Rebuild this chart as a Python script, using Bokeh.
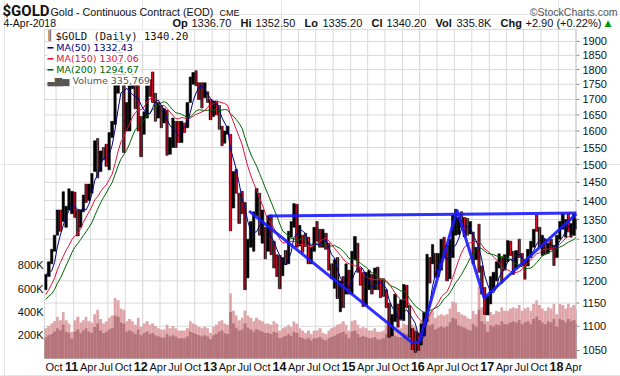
import math
import pandas as pd
from bokeh.plotting import figure
from bokeh.models import Range1d, LinearScale, Label, BoxAnnotation, ColumnDataSource
from bokeh.embed import file_html
from bokeh.resources import INLINE

# ---------------- data (semi-monthly periods) ----------------
# closes before the visible window (Oct 2009 .. Jul 2010), used for the moving averages
pre_close = [1050, 1040, 1105, 1175, 1125, 1100, 1140, 1085, 1090, 1118,
             1105, 1115, 1155, 1178, 1228, 1212, 1230, 1245, 1208, 1180]

# visible window: Aug 2010 first half .. Apr 2018 first half
bar_high = [
    1215, 1245, 1275, 1310, 1375, 1375, 1424, 1385, 1432, 1425,
    1423, 1375, 1375, 1415, 1445, 1445, 1475, 1570, 1577, 1540, 1550, 1560,
    1595, 1630, 1815, 1920, 1920, 1815, 1690, 1745, 1802, 1760, 1760, 1645,
    1660, 1745, 1765, 1792, 1720, 1690, 1680, 1670, 1665, 1580, 1640, 1630,
    1630, 1630, 1625, 1690, 1775, 1790, 1796, 1755, 1755, 1755, 1725, 1700,
    1695, 1695, 1680, 1615, 1600, 1615, 1590, 1480, 1487, 1420, 1425, 1395,
    1300, 1345, 1370, 1433, 1420, 1375, 1330, 1360, 1362, 1295, 1262, 1260,
    1255, 1272, 1320, 1345, 1392, 1390, 1335, 1310, 1315, 1305, 1280, 1330,
    1345, 1325, 1325, 1315, 1290, 1240, 1250, 1255, 1200, 1210, 1240, 1225,
    1270, 1307, 1290, 1230, 1220, 1220, 1225, 1215, 1230, 1232, 1205, 1205,
    1180, 1150, 1125, 1170, 1148, 1157, 1192, 1190, 1145, 1095, 1090, 1085,
    1105, 1130, 1263, 1255, 1287, 1265, 1265, 1300, 1305, 1285, 1300, 1362,
    1377, 1355, 1370, 1355, 1353, 1345, 1318, 1280, 1338, 1235, 1185, 1165,
    1210, 1220, 1245, 1264, 1255, 1262, 1297, 1295, 1270, 1272, 1300, 1265,
    1250, 1275, 1295, 1325, 1362, 1330, 1310, 1300, 1290, 1300, 1285, 1310,
    1345, 1366, 1350, 1365, 1340, 1365, 1352]
bar_low = [
    1180, 1210, 1240, 1270, 1310, 1320, 1345, 1330, 1375, 1365,
    1355, 1308, 1330, 1370, 1395, 1400, 1420, 1480, 1462, 1480, 1515, 1495,
    1485, 1580, 1620, 1720, 1760, 1535, 1600, 1600, 1735, 1670, 1600, 1523,
    1590, 1640, 1710, 1690, 1630, 1640, 1610, 1625, 1527, 1530, 1550, 1550,
    1565, 1565, 1595, 1610, 1690, 1750, 1745, 1700, 1672, 1705, 1690, 1635,
    1645, 1650, 1605, 1555, 1563, 1590, 1321, 1380, 1420, 1340, 1365, 1180,
    1207, 1280, 1270, 1360, 1310, 1290, 1252, 1270, 1262, 1230, 1210, 1182,
    1212, 1238, 1240, 1305, 1330, 1280, 1283, 1268, 1282, 1240, 1240, 1270,
    1295, 1280, 1280, 1275, 1225, 1205, 1183, 1160, 1131, 1140, 1170, 1170,
    1170, 1250, 1220, 1190, 1142, 1145, 1180, 1170, 1180, 1180, 1162, 1165,
    1140, 1077, 1080, 1110, 1098, 1115, 1112, 1140, 1077, 1052, 1046, 1050,
    1061, 1080, 1110, 1195, 1240, 1208, 1210, 1225, 1255, 1200, 1205, 1255,
    1310, 1312, 1330, 1306, 1310, 1313, 1240, 1250, 1220, 1170, 1125, 1124,
    1148, 1180, 1200, 1230, 1195, 1225, 1245, 1260, 1215, 1230, 1255, 1236,
    1204, 1235, 1255, 1280, 1320, 1280, 1260, 1263, 1265, 1274, 1236, 1255,
    1300, 1325, 1305, 1318, 1305, 1310, 1325]
bar_close = [
    1212, 1246, 1270, 1308, 1370, 1358, 1368, 1385, 1385, 1421,
    1360, 1332, 1374, 1411, 1397, 1439, 1473, 1556, 1492, 1536, 1524, 1500,
    1594, 1628, 1780, 1825, 1780, 1620, 1680, 1720, 1780, 1745, 1598, 1565,
    1640, 1738, 1725, 1697, 1660, 1669, 1650, 1664, 1540, 1560, 1626, 1604,
    1590, 1622, 1620, 1687, 1772, 1776, 1750, 1715, 1712, 1712, 1696, 1675,
    1680, 1663, 1610, 1578, 1592, 1596, 1350, 1470, 1425, 1392, 1386, 1234,
    1285, 1312, 1367, 1396, 1310, 1328, 1282, 1323, 1287, 1250, 1235, 1204,
    1253, 1244, 1318, 1326, 1380, 1295, 1302, 1300, 1294, 1250, 1275, 1322,
    1298, 1282, 1305, 1287, 1226, 1210, 1241, 1172, 1185, 1175, 1195, 1184,
    1265, 1278, 1227, 1213, 1153, 1183, 1200, 1183, 1226, 1190, 1180, 1172,
    1147, 1095, 1112, 1134, 1106, 1115, 1182, 1142, 1081, 1064, 1062, 1061,
    1090, 1117, 1239, 1238, 1253, 1235, 1235, 1291, 1274, 1215, 1287, 1322,
    1329, 1351, 1344, 1318, 1312, 1316, 1258, 1276, 1226, 1173, 1130, 1152,
    1197, 1211, 1228, 1255, 1202, 1245, 1288, 1268, 1229, 1269, 1260, 1242,
    1235, 1269, 1290, 1325, 1320, 1284, 1305, 1270, 1294, 1280, 1257, 1309,
    1339, 1345, 1352, 1318, 1325, 1327, 1340]
# typical daily volume (thousands) and the period's peak daily volume
vol_body_k = [
    180, 200, 210, 230, 260, 240, 290, 230, 220, 170,
    230, 250, 220, 240, 260, 230, 220, 270, 300, 240, 220, 230,
    250, 260, 370, 360, 310, 300, 230, 240, 230, 210, 250, 200,
    220, 230, 210, 220, 200, 190, 180, 180, 210, 190, 200, 190,
    175, 175, 175, 190, 230, 220, 210, 200, 190, 200, 190, 165,
    200, 210, 230, 240, 220, 210, 400, 300, 265, 240, 250, 300,
    265, 250, 230, 250, 240, 230, 220, 220, 210, 230, 220, 175,
    185, 195, 210, 195, 230, 220, 185, 175, 165, 175, 155, 175,
    175, 185, 165, 155, 175, 185, 195, 210, 220, 230, 210, 175,
    230, 240, 210, 185, 195, 185, 175, 175, 185, 165, 165, 175,
    210, 250, 220, 195, 185, 185, 220, 210, 195, 210, 195, 165,
    230, 265, 340, 285, 295, 250, 265, 275, 265, 275, 310, 350,
    340, 285, 275, 265, 250, 240, 295, 275, 420, 320, 295, 230,
    285, 275, 295, 285, 320, 295, 295, 310, 320, 310, 330, 295,
    310, 320, 295, 340, 360, 330, 310, 295, 320, 310, 340, 275,
    340, 330, 310, 340, 320, 330, 300]
vol_peak_k = [
    260, 280, 300, 320, 360, 330, 400, 330, 300, 230,
    330, 360, 310, 330, 360, 320, 310, 380, 420, 340, 300, 320,
    350, 370, 520, 500, 430, 420, 320, 340, 320, 290, 350, 270,
    300, 320, 290, 300, 280, 260, 250, 250, 290, 260, 280, 260,
    240, 240, 240, 260, 320, 300, 290, 270, 260, 270, 260, 220,
    270, 290, 320, 330, 300, 290, 560, 410, 370, 330, 350, 410,
    370, 350, 320, 350, 330, 320, 300, 300, 290, 320, 300, 240,
    260, 270, 290, 270, 320, 300, 260, 240, 220, 240, 210, 240,
    240, 260, 220, 210, 240, 260, 270, 290, 300, 320, 290, 240,
    320, 330, 290, 260, 270, 260, 240, 240, 260, 230, 230, 240,
    290, 350, 300, 270, 260, 260, 300, 290, 270, 290, 270, 230,
    320, 370, 480, 400, 410, 350, 370, 380, 370, 380, 430, 490,
    480, 400, 380, 370, 350, 340, 410, 380, 620, 440, 410, 320,
    400, 380, 410, 400, 440, 410, 410, 430, 440, 430, 460, 410,
    430, 440, 410, 470, 500, 460, 430, 410, 440, 430, 470, 380,
    470, 460, 430, 470, 440, 460, 420]

price_ticks = list(range(1050, 1901, 50))
vol_ticks = [200000, 400000, 600000, 800000]
vol_tick_labels = ["200K", "400K", "600K", "800K"]

# annotation trendlines drawn on the chart
neck_dates = ["2013-10-23", "2018-04-06"]
neck_price = [1359, 1367]
pattern_dates = ["2013-07-15", "2015-11-21", "2015-12-28", "2016-07-15", "2016-12-05", "2018-04-06"]
pattern_price = [1372, 1066, 1066, 1375, 1161, 1365]

legend_rows = [("MA(50) 1332.43", "#000080"),
               ("MA(150) 1307.06", "#dc143c"),
               ("MA(200) 1294.67", "#006400")]

# ---------------- layout (pixels) ----------------
W, H = 620, 376
PL, PR, PT, PB = 44, 576, 29, 358          # plot-area edges on the canvas
x_start = pd.Timestamp("2010-08-01")        # date at PL
x_end = pd.Timestamp("2018-04-06")          # date at PR
price_top, price_bot = 1944.0, 1034.0       # prices at PT / PB (log scale)
vol_top = 2830000.0                          # volume at PT (0 at PB)

to_ms = lambda ts: pd.Timestamp(ts).value // 10**6
ms_pp = (to_ms(x_end) - to_ms(x_start)) / (PR - PL)
ln_pp = (math.log(price_top) - math.log(price_bot)) / (PB - PT)
vol_pp = vol_top / (PB - PT)
xr = Range1d(to_ms(x_start) - PL * ms_pp, to_ms(x_end) + (W - PR) * ms_pp)
yr = Range1d(math.exp(math.log(price_bot) - (H - PB) * ln_pp),
             math.exp(math.log(price_top) + PT * ln_pp))
vr = Range1d(-(H - PB) * vol_pp, vol_top + PT * vol_pp)

# ---------------- derived series ----------------
n_pre = len(pre_close)
n = len(bar_close)
assert len(bar_high) == n and len(bar_low) == n and len(vol_body_k) == n and len(vol_peak_k) == n
starts = pd.date_range("2009-10-01", periods=n_pre + n + 1, freq="SMS")
bounds = list(starts)
bounds[-1] = x_end
lefts = pd.Series(bounds[n_pre:-1])
rights = pd.Series(bounds[n_pre + 1:])
centers = lefts + (rights - lefts) / 2
widths = [(r - l).total_seconds() * 1000 for l, r in zip(lefts, rights)]

all_close = pd.Series(pre_close + bar_close)
ma50 = all_close.rolling(5).mean().iloc[n_pre:].values
ma150 = all_close.rolling(14).mean().iloc[n_pre:].values
ma200 = all_close.rolling(19).mean().iloc[n_pre:].values

prev_close = [pre_close[-1]] + bar_close[:-1]
down = [c < pc for c, pc in zip(bar_close, prev_close)]

src = ColumnDataSource(dict(x=centers, w=widths, w9=[w * 0.9 for w in widths],
                            hi=bar_high, lo=bar_low,
                            vb=[v * 1000 for v in vol_body_k],
                            vp=[v * 1000 for v in vol_peak_k]))
dsrc = ColumnDataSource(dict(x=[centers[i] for i in range(n) if down[i]],
                             hi=[bar_high[i] for i in range(n) if down[i]],
                             lo=[bar_low[i] for i in range(n) if down[i]]))

p = figure(width=W, height=H, x_axis_type="datetime", y_axis_type="log",
           x_range=xr, y_range=yr, x_axis_location=None, y_axis_location=None,
           output_backend="svg", toolbar_location=None,
           min_border=0, min_border_left=0, min_border_right=0,
           min_border_top=0, min_border_bottom=0,
           background_fill_color="white", border_fill_color="white")
p.outline_line_color = None
p.extra_y_ranges = {"vol": vr}
p.extra_y_scales = {"vol": LinearScale()}

quarters = pd.date_range("2010-10-01", "2018-04-01", freq="QS")
GRID = "#d9d9d9"
p.segment(x0=list(quarters), x1=list(quarters), y0=price_bot, y1=price_top,
          line_color=GRID, line_width=1)
p.segment(x0=x_start, x1=x_end, y0=price_ticks, y1=price_ticks, line_color=GRID, line_width=1)

# volume
p.vbar(x="x", top="vp", bottom=0, width="w", source=src, y_range_name="vol",
       fill_color="#dfa5a8", line_color=None)
p.vbar(x="x", top="vb", bottom=0, width="w", source=src, y_range_name="vol",
       fill_color="#b5737a", line_color=None)
# price bars
p.vbar(x="x", top="hi", bottom="lo", width="w9", source=src,
       fill_color="black", line_color="black", line_width=0.5)
p.segment(x0="x", x1="x", y0="lo", y1="hi", source=dsrc, line_color="#e0102e", line_width=1.2)
# moving averages
p.line(centers, ma200, line_color="#006400", line_width=1)
p.line(centers, ma150, line_color="#dc143c", line_width=1)
p.line(centers, ma50, line_color="#000080", line_width=1)
# trendlines
p.line(pd.to_datetime(neck_dates), neck_price, line_color="#1a1aff", line_width=3, line_alpha=0.9)
p.line(pd.to_datetime(pattern_dates), pattern_price, line_color="#1a1aff", line_width=3, line_alpha=0.9)

# plot-area border and right-axis ticks
p.add_layout(BoxAnnotation(left=to_ms(x_start), right=to_ms(x_end), bottom=price_bot, top=price_top,
                           fill_alpha=0, line_color="#8a8a8a", line_width=1))
p.segment(x0=x_end, x1=to_ms(x_end) + 3 * ms_pp, y0=price_ticks, y1=price_ticks,
          line_color="#8a8a8a", line_width=1)

# ---------------- text ----------------
def L(x, y, text, size="11px", font="Liberation Sans", color="#111111", style="normal",
      align="left", bg=None):
    kw = {}
    if bg:
        kw = dict(background_fill_color=bg, background_fill_alpha=1.0)
    p.add_layout(Label(x=x, y=H - y, x_units="screen", y_units="screen", text=text,
                       text_font=font, text_font_size=size, text_color=color,
                       text_font_style=style, text_align=align, text_baseline="middle", **kw))

# axis labels
for t in price_ticks:
    p.add_layout(Label(x=PR + 6, y=t, x_units="screen", y_units="data", text=str(t),
                       text_font="Liberation Sans", text_font_size="11px", text_color="#111111",
                       text_align="left", text_baseline="middle"))
for t, lab in zip(vol_ticks, vol_tick_labels):
    p.add_layout(Label(x=PL - 1, y=t, x_units="screen", y_units="data", y_range_name="vol",
                       text=lab, text_font="Liberation Sans", text_font_size="11px",
                       text_color="#111111", text_align="right", text_baseline="middle"))
for q in quarters:
    if q.month == 1:
        txt, st, sz = q.strftime("%y"), "bold", "12.5px"
    else:
        txt, st, sz = q.strftime("%b"), "normal", "11px"
    p.add_layout(Label(x=to_ms(q), y=H - 366, x_units="data", y_units="screen", text=txt,
                       x_offset=-2,
                       text_font="Liberation Sans", text_font_size=sz, text_font_style=st,
                       text_color="#111111", text_align="center", text_baseline="middle"))

# header
L(2, 10, "$GOLD", size="15px", font="Roboto", style="bold")
L(50, 11, "Gold - Continuous Contract (EOD)", size="10.7px")
L(219, 12, "CME", size="9px")
L(617, 11, "\u00a9StockCharts.com", size="10.5px", color="#555555", align="right")
L(3, 22, "4-Apr-2018", size="10.5px")
hdr = [("Op", "bold", 172), ("1336.70", "normal", 191), ("Hi", "bold", 240),
       ("1352.50", "normal", 255), ("Lo", "bold", 304), ("1335.20", "normal", 322),
       ("Cl", "bold", 371), ("1340.20", "normal", 386), ("Vol", "bold", 435),
       ("335.8K", "normal", 456), ("Chg", "bold", 500), ("+2.90 (+0.22%)", "normal", 525)]
for t, st, x in hdr:
    L(x, 22, t, size="11px", style=st)
L(604, 22, "\u25b2", size="9px", color="#00a000", font="DejaVu Sans")

# legend rows
L(46, 35, "\u2551", size="10px", font="DejaVu Sans", color="#333333", bg="white")
L(55, 35, "$GOLD (Daily) 1340.20", size="10.5px", font="DejaVu Sans Mono", color="#111111", bg="white")
for i, (t, c) in enumerate(legend_rows):
    L(47, 46.5 + 11 * i, "\u2501 " + t, size="9.5px", font="DejaVu Sans", color=c, bg="white")
L(47, 79.5, "\u2583\u2586\u2585 Volume 335,769", size="9.5px", font="DejaVu Sans", color="#555555", bg="white")

open("out.html", "w").write(file_html(p, INLINE))
